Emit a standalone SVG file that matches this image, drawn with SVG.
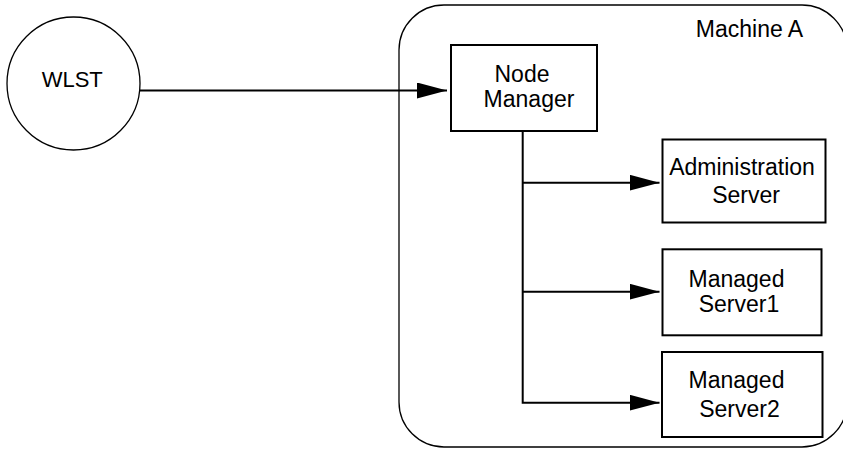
<svg xmlns="http://www.w3.org/2000/svg" width="843" height="449" viewBox="0 0 843 449">
<defs>
<style>
text{font-family:"Liberation Sans",Arial,Helvetica,sans-serif;font-size:23px;fill:#000;text-anchor:middle}
.box{fill:#fff;stroke:#000;stroke-width:2}
.thin{fill:#fff;stroke:#000;stroke-width:1.3}
.conn{fill:none;stroke:#000;stroke-width:2}
</style>
<marker id="ah" markerWidth="30" markerHeight="16" refX="30" refY="8" orient="auto" markerUnits="userSpaceOnUse">
<path d="M0,0 L30,8 L0,16 Z" fill="#000"/>
</marker>
</defs>
<rect width="843" height="449" fill="#fff"/>
<g id="machineA">
<rect class="thin" x="399" y="5" width="448" height="442" rx="45" ry="45"/>
<text x="749.5" y="36.7">Machine A</text>
</g>
<g id="wlst">
<circle class="thin" cx="73.5" cy="83.5" r="66.5"/>
<text x="72.2" y="87.3" style="font-size:22px">WLST</text>
</g>
<g id="nodeManager">
<rect class="box" x="451" y="45" width="146" height="86"/>
<text x="522" y="81.7">Node</text>
<text x="529" y="106.7">Manager</text>
</g>
<g id="adminServer">
<rect class="box" x="662.5" y="139.5" width="163" height="83"/>
<text x="742" y="175">Administration</text>
<text x="746" y="203.3">Server</text>
</g>
<g id="managedServer1">
<rect class="box" x="662.5" y="249.3" width="159" height="86"/>
<text x="736.5" y="286.7">Managed</text>
<text x="739" y="311.7">Server1</text>
</g>
<g id="managedServer2">
<rect class="box" x="662" y="352" width="160.5" height="85"/>
<text x="736.5" y="388">Managed</text>
<text x="739.5" y="416.7">Server2</text>
</g>
<g id="connectors">
<line class="conn" x1="140" y1="90.5" x2="447" y2="90.5" marker-end="url(#ah)"/>
<path class="conn" d="M522.7,131 V402.7 H659.5" marker-end="url(#ah)"/>
<line class="conn" x1="522.7" y1="182.7" x2="659.5" y2="182.7" marker-end="url(#ah)"/>
<line class="conn" x1="522.7" y1="291.7" x2="659.5" y2="291.7" marker-end="url(#ah)"/>
</g>
</svg>
